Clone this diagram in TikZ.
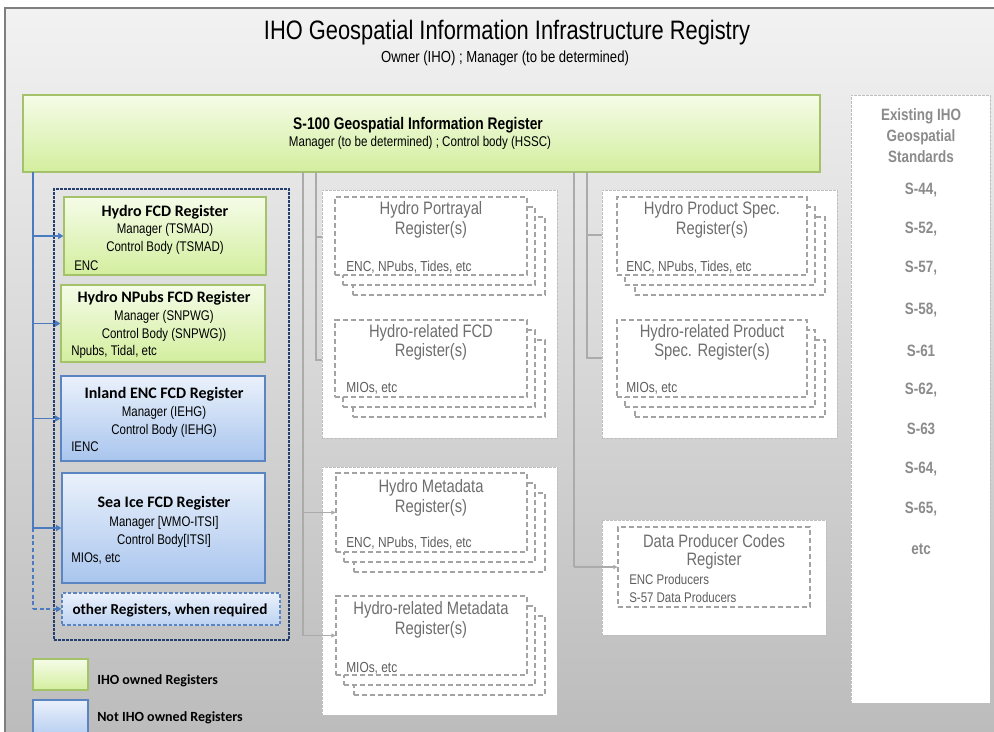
\documentclass[tikz,border=0pt]{standalone}
\usepackage{fontspec}
\setmainfont{Liberation Sans}[FakeStretch=0.82]
\newfontfamily\carl{Carlito}
\usetikzlibrary{arrows.meta,fit}
\definecolor{bgT}{HTML}{F2F2F2}
\definecolor{bgD}{HTML}{BCBCBC}
\definecolor{bordC}{HTML}{7F7F7F}
\definecolor{grnT}{HTML}{F5FCE8}
\definecolor{grnD}{HTML}{D3EE9E}
\definecolor{grnB}{HTML}{A3C26A}
\definecolor{bluT}{HTML}{EAF1FB}
\definecolor{bluD}{HTML}{A9C5EE}
\definecolor{bluB}{HTML}{5A85C0}
\definecolor{navy}{HTML}{23406F}
\definecolor{arrB}{HTML}{4A7BC1}
\definecolor{dashG}{HTML}{A3A3A3}
\definecolor{txtG}{HTML}{6E6E6E}
\definecolor{faint}{HTML}{ABABAB}
\tikzset{
  gbox/.style={draw=grnB, line width=0.8pt, top color=grnT, bottom color=grnD, inner sep=0},
  bbox/.style={draw=bluB, line width=0.8pt, top color=bluT, bottom color=bluD, inner sep=0},
  obox/.style={draw=bluB, line width=0.8pt, dash pattern=on 2.5pt off 1.5pt, top color=bluT, bottom color=bluD!70!bluT, inner sep=0},
  wouter/.style={draw=dashG!70, fill=white, line width=0.6pt, dash pattern=on 2pt off 1pt, inner sep=0},
  wbox/.style={draw=dashG, fill=white, line width=0.8pt, dash pattern=on 4pt off 2pt, inner sep=0},
  navybox/.style={draw=navy, line width=0.9pt, dash pattern=on 2pt off 1pt, inner sep=0},
  barrow/.style={draw=arrB, line width=1.3pt, -{Triangle[length=4pt,width=4.5pt]}},
  bline/.style={draw=arrB, line width=1.3pt},
  garrow/.style={draw=faint, line width=0.8pt, -{Triangle[length=3pt,width=3pt]}},
  gline/.style={draw=faint, line width=0.8pt},
  tx/.style={inner sep=0, text=black},
  txl/.style={inner sep=0, anchor=west, text=black},
  btitle/.style={inner sep=0, text=black, font=\carl\bfseries\fontsize{12}{14}\selectfont},
  bsub/.style={inner sep=0, text=black, font=\fontsize{10.5}{12}\selectfont},
  bnote/.style={inner sep=0, anchor=west, text=black, font=\fontsize{10.5}{12}\selectfont},
  gtitle/.style={inner sep=0, text=txtG, font=\fontsize{13.5}{15}\selectfont},
  gnote/.style={inner sep=0, anchor=west, text=txtG!85!black, font=\fontsize{10.9}{12}\selectfont},
  stdtx/.style={inner sep=0, text=txtG!80, font=\bfseries\fontsize{12.3}{14}\selectfont},
}
\newcommand\stackbox[5]{%
  % #1 name, #2 x1, #3 y1, #4 x2, #5 y2
  \node[wbox, fit={({#2+18},{#3+20}) ({#4+18},{#5+20})}] (#1-c) {};
  \node[wbox, fit={({#2+8},{#3+10}) ({#4+8},{#5+10})}] (#1-b) {};
  \node[wbox, fit={(#2,#3) (#4,#5)}] (#1) {};
}
\begin{document}
\begin{tikzpicture}[x=0.75pt,y=-0.75pt]
\useasboundingbox (0,0) rectangle (994,731);
\begin{scope}
\clip (0,0) rectangle (994,731);
\shade[top color=bgT, bottom color=bgD] (5,8) rectangle (994,731);
\draw[bordC, line width=1.2pt] (5,745) -- (5,8) -- (1000,8);

% faint connector origins
\coordinate (fa) at (303,172);
\coordinate (fb) at (316,172);
\coordinate (fc) at (574,172);
\coordinate (fd) at (587,172);

% titles
\node[tx, font=\fontsize{20}{23}\selectfont] (title) at (507,33) {IHO Geospatial Information Infrastructure Registry};
\node[tx, font=\fontsize{12}{14}\selectfont] (subtitle) at (505,58) {Owner (IHO) ; Manager (to be determined)};

% S-100 box
\node[gbox, fit={(23,95) (820,172)}] (s100) {};
\node[tx, font=\bfseries\fontsize{12.6}{14}\selectfont] (s100t) at (418,125) {S-100 Geospatial Information Register};
\node[tx, font=\fontsize{10.6}{12}\selectfont] (s100s) at (420,143) {Manager (to be determined) ; Control body (HSSC)};

% existing standards
\node[wouter, fit={(851,95) (990,703)}] (exist) {};
\node[stdtx] (e1) at (921,116) {Existing IHO};
\node[stdtx] (e2) at (921,137) {Geospatial};
\node[stdtx] (e3) at (921,157) {Standards};
\node[stdtx] (s44) at (921,190) {S-44,};
\node[stdtx] (s52) at (921,229) {S-52,};
\node[stdtx] (s57) at (921,268) {S-57,};
\node[stdtx] (s58) at (921,310) {S-58,};
\node[stdtx] (s61) at (921,351) {S-61};
\node[stdtx] (s62) at (921,390) {S-62,};
\node[stdtx] (s63) at (921,429) {S-63};
\node[stdtx] (s64) at (921,469) {S-64,};
\node[stdtx] (s65) at (921,509) {S-65,};
\node[stdtx] (setc) at (921,549) {etc};

% left column
\node[navybox, fit={(54,189) (289,640)}] (lgroup) {};
\node[gbox, fit={(64,197) (266,275)}] (hfcd) {};
\node[btitle] (hfcd1) at (165,212) {Hydro FCD Register};
\node[bsub] (hfcd2) at (165,230) {Manager (TSMAD)};
\node[bsub] (hfcd3) at (165,248) {Control Body (TSMAD)};
\node[bnote] (hfcd4) at (74,266) {ENC};

\node[gbox, fit={(61,285) (265,362)}] (npub) {};
\node[btitle] (npub1) at (164,298) {Hydro NPubs FCD Register};
\node[bsub] (npub2) at (164,317) {Manager (SNPWG)};
\node[bsub] (npub3) at (164,335) {Control Body (SNPWG))};
\node[bnote] (npub4) at (71,352) {Npubs, Tidal, etc};

\node[bbox, fit={(61,376) (265,461)}] (ienc) {};
\node[btitle] (ienc1) at (164,394) {Inland ENC FCD Register};
\node[bsub] (ienc2) at (164,413) {Manager (IEHG)};
\node[bsub] (ienc3) at (164,431) {Control Body (IEHG)};
\node[bnote] (ienc4) at (71,447) {IENC};

\node[bbox, fit={(62,473) (265,583)}] (sice) {};
\node[btitle] (sice1) at (164,503) {Sea Ice FCD Register};
\node[bsub] (sice2) at (164,523) {Manager [WMO-ITSI]};
\node[bsub] (sice3) at (164,541) {Control Body[ITSI]};
\node[bnote] (sice4) at (71,558) {MIOs, etc};

\node[obox, fit={(62,593) (280,625)}] (other) {};
\node[btitle, font=\carl\bfseries\fontsize{11.4}{13}\selectfont] (other1) at (170,610) {other Registers, when required};

\coordinate (sp) at (33,172);
\draw[bline] (sp) -- (sp |- sice.west);
\draw[bline, dash pattern=on 3pt off 2pt] (sp |- sice.west) -- (sp |- other.west);
\draw[barrow] (sp |- hfcd.west) -- (hfcd.west);
\draw[barrow] (sp |- npub.west) -- (npub.west);
\draw[barrow] (sp |- ienc.west) -- (ienc.west);
\draw[barrow] (sp |- sice.west) -- (sice.west);
\draw[barrow, dash pattern=on 3pt off 2pt] (sp |- other.west) -- (other.west);

% legend
\node[gbox, fit={(33,659) (88,690)}] (lgG) {};
\node[txl, font=\carl\bfseries\fontsize{10.5}{12}\selectfont] (lgGt) at (97,681) {IHO owned Registers};
\node[bbox, fit={(33,700) (88,745)}] (lgB) {};
\node[txl, font=\carl\bfseries\fontsize{10.5}{12}\selectfont] (lgBt) at (97,718) {Not IHO owned Registers};

% middle column
\node[wouter, fit={(322,190) (557,438)}] (mid1) {};
\stackbox{hport}{335}{197}{527}{275}
\node[gtitle] (hport1) at (431,210) {Hydro Portrayal};
\node[gtitle] (hport2) at (431,230) {Register(s)};
\node[gnote] (hport3) at (346,267) {ENC, NPubs, Tides, etc};

\stackbox{hrfcd}{335}{320}{527}{397}
\node[gtitle] (hrfcd1) at (431,333) {Hydro-related FCD};
\node[gtitle] (hrfcd2) at (431,352) {Register(s)};
\node[gnote] (hrfcd3) at (346,388) {MIOs, etc};

\node[wouter, fit={(322,467) (557,715)}] (mid2) {};
\stackbox{hmeta}{336}{473}{527}{552}
\node[gtitle] (hmeta1) at (431,488) {Hydro Metadata};
\node[gtitle] (hmeta2) at (431,508) {Register(s)};
\node[gnote] (hmeta3) at (346,543) {ENC, NPubs, Tides, etc};

\stackbox{hrmeta}{336}{596}{527}{675}
\node[gtitle] (hrmeta1) at (431,610) {Hydro-related Metadata};
\node[gtitle] (hrmeta2) at (431,630) {Register(s)};
\node[gnote] (hrmeta3) at (346,668) {MIOs, etc};

% right column
\node[wouter, fit={(602,190) (837,438)}] (rgt1) {};
\stackbox{hpspec}{617}{197}{807}{275}
\node[gtitle] (hpspec1) at (712,210) {Hydro Product Spec.};
\node[gtitle] (hpspec2) at (712,230) {Register(s)};
\node[gnote] (hpspec3) at (626,267) {ENC, NPubs, Tides, etc};

\stackbox{hrpspec}{617}{320}{807}{397}
\node[gtitle] (hrpspec1) at (712,333) {Hydro-related Product};
\node[gtitle] (hrpspec2) at (712,352) {Spec. Register(s)};
\node[gnote] (hrpspec3) at (626,388) {MIOs, etc};

\node[wouter, fit={(602,520) (826,635)}] (dpco) {};
\node[wbox, fit={(618,527) (810,607)}] (dpc) {};
\node[gtitle] (dpc1) at (714,541) {Data Producer Codes};
\node[gtitle] (dpc2) at (714,561) {Register};
\node[gnote, font=\fontsize{10.5}{12}\selectfont] (dpc3) at (629,579) {ENC Producers};
\node[gnote, font=\fontsize{10.5}{12}\selectfont] (dpc4) at (629,597) {S-57 Data Producers};

% faint connectors
\draw[gline] (fa) -- (fa |- hrmeta.west);
\draw[garrow] (fa |- hmeta.west) -- (hmeta.west);
\draw[garrow] (fa |- hrmeta.west) -- (hrmeta.west);
\draw[gline] (fb) -- (fb |- 0,360) -- (mid1.west |- 0,360);
\draw[gline] (fb |- 0,237) -- (mid1.west |- 0,237);
\draw[gline] (fc) -- (fc |- dpc.west);
\draw[garrow] (fc |- dpc.west) -- (dpc.west);
\draw[gline] (fd) -- (fd |- 0,358) -- (rgt1.west |- 0,358);
\draw[gline] (fd |- 0,235) -- (rgt1.west |- 0,235);
\end{scope}
\end{tikzpicture}
\end{document}
